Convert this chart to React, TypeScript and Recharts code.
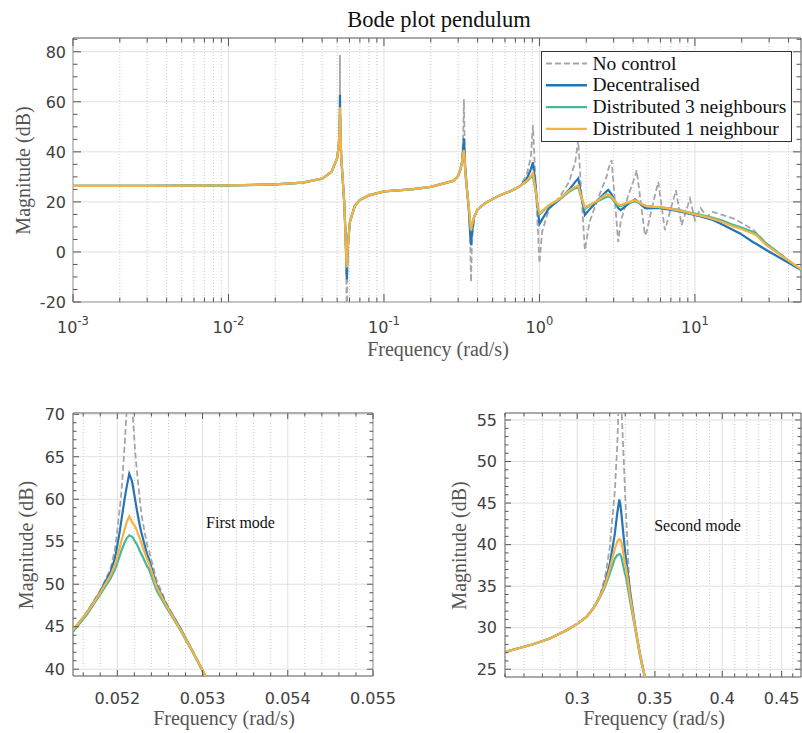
import React from "react";
import { LineChart, Line, XAxis, YAxis, ReferenceLine, ReferenceArea } from "recharts";

// ---- full bode plot (rad/s, dB) ----
const bodeFreq = [
  0.001, 0.003, 0.01, 0.02, 0.03, 0.04, 0.046, 0.05, 0.0512, 0.0516, 0.0519, 0.052, 0.05212, 0.05225, 0.0525,
  0.053, 0.054, 0.0555, 0.0565, 0.0572, 0.0577, 0.0582, 0.059, 0.0604, 0.065, 0.07, 0.08, 0.1, 0.15, 0.2, 0.25,
  0.2786, 0.2938, 0.3, 0.3097, 0.318, 0.3233, 0.3268, 0.3305, 0.3331, 0.343, 0.352, 0.358, 0.363, 0.368, 0.38,
  0.4, 0.45, 0.55, 0.65, 0.75, 0.83, 0.88, 0.908, 0.94, 0.975, 1.0, 1.04, 1.15, 1.35, 1.55, 1.7, 1.776, 1.84,
  1.96, 2.1, 2.4, 2.7, 2.77, 2.91, 3.21, 3.33, 3.7, 4.11, 4.22, 4.77, 4.89, 5.4, 5.81, 6.41, 7.55, 8.21, 9.29,
  10.0, 10.9, 11.9, 13.06, 15.0, 17.6, 19.5, 23.7, 24.9, 28.9, 48.5,
];
const bodeNoControl = [
  26.4, 26.4, 26.6, 27.0, 27.7, 29.3, 32.0, 37.5, 42.5, 46.5, 51.5, 56.0, 78.7, 56.0, 49.0,
  39.5, 31, 20, 8, -4, -35, -3, 5, 12, 18.5, 20.8, 22.6, 24.2, 25, 26, 27.6,
  28.4, 29.7, 30.5, 32.9, 36.5, 46.6, 61.0, 41.0, 33.0, 24, 16, 6, -12, 4, 14,
  17, 19.6, 22.5, 24.3, 26.3, 31.0, 38.0, 50.6, 30, 10, -4.5, 8, 17, 22, 28, 36, 44.7, 28,
  0.7, 12, 22, 30, 33, 36.7, 4, 12, 22, 30, 32.7, 6.7, 8, 20, 28, 8.7, 24.7, 10.7, 21.3,
  12.7, 17.5, 14, 16, 14.8, 13.4, 12.0, 8.9, 7.5, 3.4, -7.3,
];
const bodeDecentralised = [
  26.4, 26.4, 26.6, 27.0, 27.7, 29.3, 32.0, 37.5, 42.5, 46.5, 50.8, 54.4, 62.8, 55.0, 48.8,
  39.3, 31, 20, 8, -3, -11, -2, 5, 12, 18.5, 20.8, 22.6, 24.2, 25, 26, 27.6,
  28.4, 29.7, 30.5, 32.9, 36.1, 41.7, 45.4, 39.5, 33.7, 24, 16, 8, 2.7, 7.5, 14,
  17, 19.6, 22.5, 24.3, 26.3, 29.3, 33.0, 35.8, 28, 17, 11.2, 13, 17.5, 21, 24.8, 28, 29.4, 24,
  14.8, 17, 21, 24.2, 24.8, 23.0, 17.5, 16.7, 19, 21, 20.5, 17.6, 17.4, 17.5, 17.6, 17.2, 16.5, 16.0, 15.2,
  14.8, 14.2, 13.5, 12.8, 11.0, 8.8, 7.4, 3.9, 3.2, 0.7, -7.3,
];
const bodeDist3 = [
  26.4, 26.4, 26.6, 27.0, 27.7, 29.3, 32.0, 37.5, 42.5, 46.3, 50.0, 52.1, 55.7, 53.2, 48.4,
  39.2, 31, 20, 8, -1.5, -6.5, 0, 5, 12, 18.5, 20.8, 22.6, 24.2, 25, 26, 27.6,
  28.4, 29.7, 30.5, 32.8, 35.6, 38.5, 38.9, 35.5, 31.7, 24, 17.5, 12, 8.3, 10.5, 14,
  17, 19.6, 22.5, 24.3, 26.3, 28.2, 29.8, 30.5, 25, 18, 15.0, 16, 18.5, 21, 24, 25.5, 25.8, 22.5,
  17.2, 18.5, 20.5, 22.0, 22.3, 21.5, 18.5, 18.3, 19.5, 20.2, 20.0, 18.5, 18.3, 18, 17.9, 17.6, 17.0, 16.5, 15.7,
  15.3, 14.8, 14.2, 13.6, 12.6, 10.8, 10.0, 8.0, 7.2, 3.2, -7.3,
];
const bodeDist1 = [
  26.4, 26.4, 26.6, 27.0, 27.7, 29.3, 32.0, 37.5, 42.5, 46.4, 50.4, 52.9, 57.8, 54.2, 48.6,
  39.2, 31, 20, 8, -1.5, -6, 0, 5, 12, 18.5, 20.8, 22.6, 24.2, 25, 26, 27.6,
  28.4, 29.7, 30.5, 32.9, 36.0, 39.7, 40.7, 36.8, 32.5, 24, 17.5, 12.5, 8.7, 11, 14,
  17, 19.6, 22.5, 24.3, 26.3, 28.5, 30.3, 31.6, 25.5, 18.5, 15.5, 16.3, 18.7, 21.3, 24.5, 26.0, 26.6, 23,
  17.8, 18.8, 20.8, 23.2, 23.0, 22.0, 19.0, 18.7, 19.8, 20.7, 20.4, 18.5, 18.3, 18, 18.0, 17.6, 16.8, 16.3, 15.5,
  15.0, 14.5, 13.9, 13.2, 12.0, 10.2, 9.4, 7.3, 6.6, 2.6, -7.0,
];

// ---- zoom on first mode ----
const mode1Freq = [
  0.05148, 0.05164, 0.0518, 0.05192, 0.05197, 0.05199, 0.05203, 0.05205, 0.05209, 0.05211, 0.05214, 0.05217,
  0.05218, 0.05221, 0.05223, 0.05227, 0.05229, 0.05235, 0.05237, 0.05246, 0.05258, 0.05274, 0.0529, 0.05304, 0.0535,
];
const mode1NoControl = [
  44.6, 46.7, 49.3, 51.8, 54.0, 55.5, 59.0, 61.0, 67.0, 70.5, 78.7, 72.0,
  70.0, 65.5, 63.3, 59.4, 57.8, 54.6, 54.0, 50.5, 47.7, 44.8, 41.9, 39.1, 32.5,
];
const mode1Decentralised = [
  44.6, 46.6, 49.1, 51.45, 53.0, 54.0, 56.3, 57.7, 60.3, 61.45, 63.0, 62.2,
  61.7, 59.9, 58.7, 56.6, 55.8, 53.5, 53.0, 49.9, 47.5, 44.8, 41.8, 39.1, 32.5,
];
const mode1Dist3 = [
  44.4, 46.4, 48.8, 50.67, 51.7, 52.2, 53.4, 54.0, 55.0, 55.4, 55.76, 55.6,
  55.5, 55.0, 54.7, 53.8, 53.4, 52.1, 51.8, 49.3, 47.2, 44.6, 41.7, 39.0, 32.5,
];
const mode1Dist1 = [
  44.6, 46.6, 49.0, 51.06, 52.2, 52.8, 54.4, 55.2, 56.6, 57.3, 58.0, 57.4,
  57.2, 56.8, 56.3, 55.2, 54.6, 52.9, 52.5, 49.7, 47.4, 44.7, 41.8, 39.1, 32.5,
];

// ---- zoom on second mode ----
const mode2Freq = [
  0.255, 0.26, 0.2749, 0.2842, 0.2938, 0.3002, 0.3056, 0.3097, 0.3138, 0.317, 0.3201, 0.3233, 0.3248, 0.3255,
  0.3261, 0.3268, 0.3277, 0.3298, 0.3305, 0.3331, 0.3363, 0.3397, 0.3431, 0.347,
];
const mode2NoControl = [
  26.7, 27.09, 28.01, 28.7, 29.7, 30.5, 31.3, 32.31, 33.9, 36.0, 39.74, 46.57, 51.8, 55.8,
  58.5, 61.0, 55.8, 46.8, 43.76, 33.7, 30.3, 26.89, 24.08, 21.0,
];
const mode2Decentralised = [
  26.7, 27.09, 28.01, 28.7, 29.7, 30.5, 31.3, 32.31, 33.71, 35.32, 37.73, 41.35, 43.76, 44.6,
  45.43, 44.9, 43.35, 39.34, 38.3, 34.52, 30.5, 26.89, 24.08, 21.0,
];
const mode2Dist3 = [
  26.7, 27.09, 28.01, 28.7, 29.7, 30.5, 31.3, 32.31, 33.65, 34.92, 36.53, 38.33, 38.73, 38.8,
  38.86, 38.8, 38.33, 36.53, 36.1, 33.31, 30.1, 26.69, 24.0, 21.0,
];
const mode2Dist1 = [
  26.7, 27.09, 28.01, 28.7, 29.7, 30.5, 31.3, 32.31, 33.71, 35.12, 37.13, 39.54, 40.34, 40.55,
  40.66, 40.6, 40.14, 37.73, 37.3, 33.92, 30.3, 26.89, 24.08, 21.0,
];

// ---- ticks ----
const topXMajor = [0.001, 0.01, 0.1, 1, 10];
const topXMinor = topXMajor
  .flatMap((d) => [2, 3, 4, 5, 6, 7, 8, 9].map((k) => Number((d * k).toPrecision(3))))
  .filter((v) => v < 48.1);
const topYMajor = [-20, 0, 20, 40, 60, 80];
const topYMinor = [-15, -10, -5, 5, 10, 15, 25, 30, 35, 45, 50, 55, 65, 70, 75, 85];

const mode1XMajor = [0.052, 0.053, 0.054, 0.055];
const mode1XMinor = [0.0516, 0.0518, 0.0522, 0.0524, 0.0526, 0.0528, 0.0532, 0.0534, 0.0536, 0.0538, 0.0542, 0.0544, 0.0546, 0.0548];
const mode1YMajor = [40, 45, 50, 55, 60, 65, 70];
const mode1YMinor = Array.from({ length: 31 }, (_, i) => 40 + i).filter((v) => v % 5 !== 0);

const mode2XMajor = [0.3, 0.35, 0.4, 0.45];
const mode2XMinor = [0.26, 0.27, 0.28, 0.29, 0.31, 0.32, 0.33, 0.34, 0.36, 0.37, 0.38, 0.39, 0.41, 0.42, 0.43, 0.44, 0.46];
const mode2YMajor = [25, 30, 35, 40, 45, 50, 55];
const mode2YMinor = Array.from({ length: 30 }, (_, i) => 26 + i).filter((v) => v % 5 !== 0);

const seriesNames = ["No control", "Decentralised", "Distributed 3 neighbours", "Distributed 1 neighbour"];

const GREY = "#a3a7ab";
const BLUE = "#2575b5";
const GREEN = "#45b89b";
const ORANGE = "#f6b343";
const AXIS = "#555555";
const GRID_MAJOR = "#e1e1e1";
const GRID_MINOR = "#cccccc";
const TICK_TEXT = "#404040";
const SANS = "'DejaVu Sans', sans-serif";
const SERIF = "'Liberation Serif', serif";

const toRows = (f: number[], a: number[], b: number[], c: number[], d: number[]) =>
  f.map((x, i) => ({ f: x, nc: a[i], dec: b[i], d3: c[i], d1: d[i] }));

const bodeRows = toRows(bodeFreq, bodeNoControl, bodeDecentralised, bodeDist3, bodeDist1);
const mode1Rows = toRows(mode1Freq, mode1NoControl, mode1Decentralised, mode1Dist3, mode1Dist1);
const mode2Rows = toRows(mode2Freq, mode2NoControl, mode2Decentralised, mode2Dist3, mode2Dist1);

interface Box {
  left: number;
  right: number;
  top: number;
  bottom: number;
}

// ticks drawn inside the box on both sides, labels only on majors
function xTick(box: Box, majors: number[], len: number, minorLen: number, label: (v: number, x: number) => React.ReactNode) {
  return (props: any) => {
    const { x, payload } = props;
    const major = majors.includes(payload.value);
    const l = major ? len : minorLen;
    return (
      <g>
        <line x1={x} x2={x} y1={box.bottom} y2={box.bottom - l} stroke={AXIS} />
        <line x1={x} x2={x} y1={box.top} y2={box.top + l} stroke={AXIS} />
        {major && label(payload.value, x)}
      </g>
    );
  };
}

function yTick(box: Box, majors: number[], len: number, minorLen: number, labelX: number) {
  return (props: any) => {
    const { y, payload } = props;
    const major = majors.includes(payload.value);
    const l = major ? len : minorLen;
    return (
      <g>
        <line x1={box.left} x2={box.left + l} y1={y} y2={y} stroke={AXIS} />
        <line x1={box.right} x2={box.right - l} y1={y} y2={y} stroke={AXIS} />
        {major && (
          <text x={labelX} y={y} dy="0.36em" textAnchor="end" fill={TICK_TEXT} fontFamily={SANS} fontSize={16}>
            {payload.value}
          </text>
        )}
      </g>
    );
  };
}

function gridLines(xMajor: number[], xMinor: number[], yMajor: number[]) {
  return [
    ...xMinor.map((v) => <ReferenceLine key={"xm" + v} x={v} stroke={GRID_MINOR} strokeDasharray="1 2" />),
    ...xMajor.map((v) => <ReferenceLine key={"xM" + v} x={v} stroke={GRID_MAJOR} />),
    ...yMajor.map((v) => <ReferenceLine key={"yM" + v} y={v} stroke={GRID_MAJOR} />),
  ];
}

function curves() {
  return [
    <Line key="nc" dataKey="nc" name={seriesNames[0]} stroke={GREY} strokeWidth={1.8} strokeDasharray="6 3" dot={false} isAnimationActive={false} />,
    <Line key="dec" dataKey="dec" name={seriesNames[1]} stroke={BLUE} strokeWidth={2.2} dot={false} isAnimationActive={false} />,
    <Line key="d3" dataKey="d3" name={seriesNames[2]} stroke={GREEN} strokeWidth={2.2} dot={false} isAnimationActive={false} />,
    <Line key="d1" dataKey="d1" name={seriesNames[3]} stroke={ORANGE} strokeWidth={2.2} dot={false} isAnimationActive={false} />,
  ];
}

function TopChart() {
  const box = { left: 73, right: 801, top: 38, bottom: 302 };
  const xDomain = [0.001, 48.1];
  const yDomain = [-20, 85.5];
  const expLabel = (v: number, x: number) => (
    <text x={x} y={333} textAnchor="middle" fill={TICK_TEXT} fontFamily={SANS} fontSize={16}>
      10
      <tspan dy={-8} fontSize={11.5}>
        {String(Math.round(Math.log10(v)))}
      </tspan>
    </text>
  );
  return (
    <LineChart width={802} height={360} data={bodeRows} margin={{ top: 38, right: 1, bottom: 28, left: 33 }}>
      <XAxis
        dataKey="f"
        type="number"
        scale="log"
        domain={xDomain}
        allowDataOverflow
        ticks={[...topXMajor, ...topXMinor].sort((a, b) => a - b)}
        interval={0}
        tick={xTick(box, topXMajor, 8, 4.5, expLabel)}
        tickLine={false}
        axisLine={false}
        height={30}
      />
      <YAxis
        type="number"
        domain={yDomain}
        allowDataOverflow
        ticks={[...topYMajor, ...topYMinor].sort((a, b) => a - b)}
        interval={0}
        tick={yTick(box, topYMajor, 8, 4.5, 66)}
        tickLine={false}
        axisLine={false}
        width={40}
      />
      {gridLines(topXMajor, topXMinor, topYMajor)}
      {curves()}
      <ReferenceArea x1={xDomain[0]} x2={xDomain[1]} y1={yDomain[0]} y2={yDomain[1]} fill="none" stroke={AXIS} />
    </LineChart>
  );
}

function ZoomChart(props: {
  rows: any[];
  width: number;
  box: Box;
  xDomain: number[];
  yDomain: number[];
  log: boolean;
  xMajor: number[];
  xMinor: number[];
  yMajor: number[];
  yMinor: number[];
  yLabelX: number;
}) {
  const { rows, width, box, xDomain, yDomain, log, xMajor, xMinor, yMajor, yMinor, yLabelX } = props;
  const numLabel = (v: number, x: number) => (
    <text x={x} y={314} textAnchor="middle" fill={TICK_TEXT} fontFamily={SANS} fontSize={16}>
      {String(v)}
    </text>
  );
  return (
    <LineChart
      width={width}
      height={343}
      data={rows}
      margin={{ top: box.top, right: width - box.right, bottom: 343 - box.bottom - 30, left: box.left - 40 }}
    >
      <XAxis
        dataKey="f"
        type="number"
        scale={log ? "log" : "linear"}
        domain={xDomain}
        allowDataOverflow
        ticks={[...xMajor, ...xMinor].sort((a, b) => a - b)}
        interval={0}
        tick={xTick(box, xMajor, 6, 3.5, numLabel)}
        tickLine={false}
        axisLine={false}
        height={30}
      />
      <YAxis
        type="number"
        domain={yDomain}
        allowDataOverflow
        ticks={[...yMajor, ...yMinor].sort((a, b) => a - b)}
        interval={0}
        tick={yTick(box, yMajor, 6, 3.5, yLabelX)}
        tickLine={false}
        axisLine={false}
        width={40}
      />
      {gridLines(xMajor, xMinor, yMajor)}
      {curves()}
      <ReferenceArea x1={xDomain[0]} x2={xDomain[1]} y1={yDomain[0]} y2={yDomain[1]} fill="none" stroke={AXIS} />
    </LineChart>
  );
}

const legendColors = [GREY, BLUE, GREEN, ORANGE];

export default function App() {
  return (
    <div style={{ position: "absolute", left: 0, top: 0, width: 802, height: 733, background: "#fff", overflow: "hidden" }}>
      <div style={{ position: "absolute", left: 0, top: 0 }}>
        <TopChart />
      </div>
      <div style={{ position: "absolute", left: 0, top: 390 }}>
        <ZoomChart
          rows={mode1Rows}
          width={400}
          box={{ left: 73, right: 373, top: 23, bottom: 286 }}
          xDomain={[0.05148, 0.055]}
          yDomain={[39.2, 70.15]}
          log={false}
          xMajor={mode1XMajor}
          xMinor={mode1XMinor}
          yMajor={mode1YMajor}
          yMinor={mode1YMinor}
          yLabelX={65}
        />
      </div>
      <div style={{ position: "absolute", left: 400, top: 390 }}>
        <ZoomChart
          rows={mode2Rows}
          width={402}
          box={{ left: 105, right: 401, top: 23, bottom: 287 }}
          xDomain={[0.26, 0.4676]}
          yDomain={[24.07, 55.84]}
          log={true}
          xMajor={mode2XMajor}
          xMinor={mode2XMinor}
          yMajor={mode2YMajor}
          yMinor={mode2YMinor}
          yLabelX={97}
        />
      </div>
      <svg width={802} height={733} style={{ position: "absolute", left: 0, top: 0, pointerEvents: "none" }}>
        <text x={439} y={27} textAnchor="middle" fontFamily={SERIF} fontSize={22.5} fill="#111">
          Bode plot pendulum
        </text>
        <text x={438} y={356} textAnchor="middle" fontFamily={SERIF} fontSize={20} fill="#555">
          Frequency (rad/s)
        </text>
        <text transform="translate(30,170.5) rotate(-90)" textAnchor="middle" fontFamily={SERIF} fontSize={20} fill="#555">
          Magnitude (dB)
        </text>
        <text x={224} y={725} textAnchor="middle" fontFamily={SERIF} fontSize={20} fill="#555">
          Frequency (rad/s)
        </text>
        <text transform="translate(33,545) rotate(-90)" textAnchor="middle" fontFamily={SERIF} fontSize={20} fill="#555">
          Magnitude (dB)
        </text>
        <text x={654} y={725} textAnchor="middle" fontFamily={SERIF} fontSize={20} fill="#555">
          Frequency (rad/s)
        </text>
        <text transform="translate(466,545.5) rotate(-90)" textAnchor="middle" fontFamily={SERIF} fontSize={20} fill="#555">
          Magnitude (dB)
        </text>
        <text x={240.5} y={527.5} textAnchor="middle" fontFamily={SERIF} fontSize={16} fill="#111">
          First mode
        </text>
        <text x={697.5} y={531} textAnchor="middle" fontFamily={SERIF} fontSize={16} fill="#111">
          Second mode
        </text>
        <rect x={541.5} y={51.5} width={250} height={90} fill="#fff" stroke="#333" />
        {seriesNames.map((name, i) => {
          const cy = 63.5 + i * 21.8;
          return (
            <g key={name}>
              <line
                x1={546}
                x2={587}
                y1={cy}
                y2={cy}
                stroke={legendColors[i]}
                strokeWidth={i === 0 ? 1.8 : 2.4}
                strokeDasharray={i === 0 ? "6 3" : undefined}
              />
              <text x={592.5} y={cy + 6} fontFamily={SERIF} fontSize={19.5} fill="#111">
                {name}
              </text>
            </g>
          );
        })}
      </svg>
    </div>
  );
}
